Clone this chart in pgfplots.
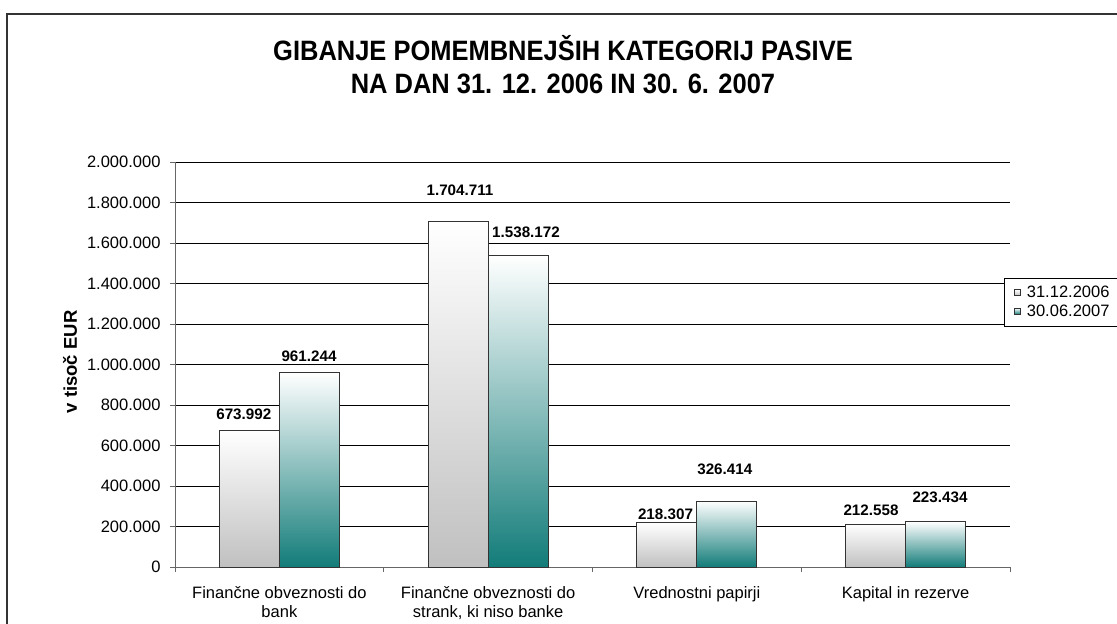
\documentclass[border=0pt]{standalone}
\usepackage{fontspec}
\setmainfont{Liberation Sans}
\usepackage{graphicx}
\usepackage{pgfplots}
\pgfplotsset{compat=1.18}
\usepackage{pgfplotstable}

\definecolor{tealbar}{RGB}{18,124,121}
\definecolor{graybar}{RGB}{192,192,192}

% label positions (lx, ly) and label texts
\pgfplotstableread{
lx ly lab
-0.1704 728313 673.992
0.8653 1831625 1.704.711
1.8497 234603 218.307
2.8341 253546 212.558
}\labA
\pgfplotstableread{
lx ly lab
0.1419 1013590 961.244
1.1814 1625579 1.538.172
2.1338 453328 326.414
3.1647 317261 223.434
}\labB

\pgfplotsset{
  barA/.style={ybar, bar width=60pt, bar shift=-30pt, draw=black!80, line width=0.8pt, top color=white, bottom color=graybar,
    legend image code/.code={\draw[draw=black!80, line width=0.6pt, top color=white, bottom color=graybar] (3pt,-3pt) rectangle (9pt,3pt); \path (13pt,0pt);}},
  barB/.style={ybar, bar width=60pt, bar shift=30pt, draw=black!80, line width=0.8pt, top color=white, bottom color=tealbar,
    legend image code/.code={\draw[draw=black!80, line width=0.6pt, top color=white, bottom color=tealbar] (3pt,-3pt) rectangle (9pt,3pt); \path (13pt,0pt);}},
}

\begin{document}
\begin{tikzpicture}[x=1pt,y=1pt]
\useasboundingbox (0,0) rectangle (1117,624);
\draw[black!80, line width=1.3pt] (7,-20) -- (7,610) -- (1140,610);
\node[font=\bfseries\fontsize{28}{35}\selectfont] at (563,576) {\scalebox{0.91}[1]{GIBANJE POMEMBNEJŠIH KATEGORIJ PASIVE}};
\node[font=\bfseries\fontsize{28}{35}\selectfont] at (563,540) {\scalebox{0.91}[1]{NA DAN 31. 12. 2006 IN 30. 6. 2007}};
\node[font=\bfseries\fontsize{18.5}{22}\selectfont, rotate=90] at (70,262) {v tisoč EUR};
\begin{axis}[
  at={(175pt,57pt)}, anchor=south west,
  width=835pt, height=405pt, scale only axis,
  xmin=-0.5, xmax=3.5, ymin=0, ymax=2000000,
  axis lines=left, axis line style={-, black!60, line width=0.9pt},
  scaled y ticks=false,
  ytick={0,200000,400000,600000,800000,1000000,1200000,1400000,1600000,1800000,2000000},
  yticklabel={\pgfmathprintnumber[fixed,precision=0,1000 sep={.},assume math mode=true]{\tick}},
  ymajorgrids, grid style={black, line width=0.8pt},
  xtick={-0.5,0.5,1.5,2.5,3.5},
  x tick label as interval,
  xticklabels={{Finančne obveznosti do\\bank},{Finančne obveznosti do\\strank, ki niso banke},{Vrednostni papirji},{Kapital in rezerve}},
  tick align=outside, major tick length=5pt,
  tick style={black!60, line width=0.9pt},
  xticklabel style={font=\fontsize{16.5}{19}\selectfont, align=center, anchor=north, yshift=-11pt},
  yticklabel style={font=\fontsize{16.5}{19}\selectfont, xshift=-6pt},
  legend style={at={(axis description cs:0.9928,0.7136)}, anchor=north west, draw=black, fill=white,
    font=\fontsize{16.5}{19}\selectfont, row sep=1.5pt, inner xsep=10pt, inner ysep=6pt},
  legend cell align=left,
  clip=false,
  nodes near coords style={font=\bfseries\fontsize{15.2}{18}\selectfont, inner sep=0pt, anchor=south, black},
]
% one plot per bar so that every bar has its own gradient
\addplot[barA] coordinates {(0,673992)};
\addplot[barB] coordinates {(0,961244)};
\addplot[barA, forget plot] coordinates {(1,1704711)};
\addplot[barA, forget plot] coordinates {(2,218307)};
\addplot[barA, forget plot] coordinates {(3,212558)};
\addplot[barB, forget plot] coordinates {(1,1538172)};
\addplot[barB, forget plot] coordinates {(2,326414)};
\addplot[barB, forget plot] coordinates {(3,223434)};
\addplot[draw=none, mark=none, forget plot, nodes near coords, point meta=explicit symbolic]
  table[x=lx,y=ly,meta=lab]{\labA};
\addplot[draw=none, mark=none, forget plot, nodes near coords, point meta=explicit symbolic]
  table[x=lx,y=ly,meta=lab]{\labB};
\legend{31.12.2006,30.06.2007}
\end{axis}
\end{tikzpicture}
\end{document}
